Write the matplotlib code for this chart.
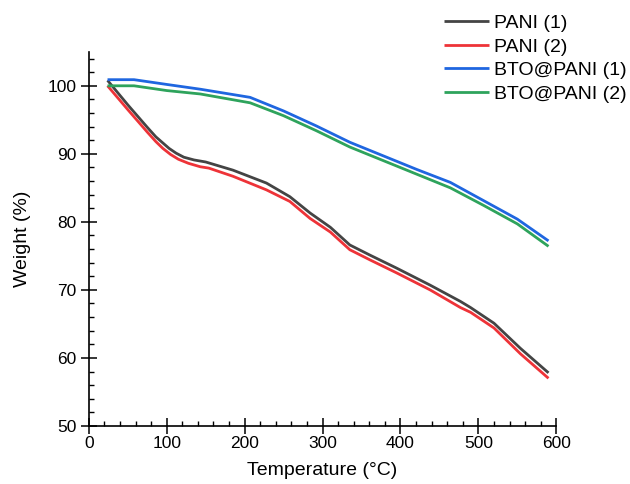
import matplotlib
matplotlib.use("Agg")
from matplotlib import pyplot as plt
from matplotlib.ticker import MultipleLocator

plt.rcParams['font.family'] = ['Liberation Sans', 'DejaVu Sans']

# temperatures (°C) and weight (%)
temp_pani_1 = [24, 50, 75, 86, 95, 103, 112, 122, 135, 150, 185, 228, 258, 284, 310,
               335, 361, 395, 438, 477, 490, 520, 554, 590]
pani_1 = [100.8, 97.2, 93.9, 92.5, 91.6, 90.8, 90.1, 89.5, 89.1, 88.8, 87.6, 85.7, 83.7,
          81.3, 79.2, 76.6, 75.1, 73.2, 70.7, 68.3, 67.4, 65.1, 61.4, 57.8]

temp_pani_2 = [24, 50, 75, 86, 95, 105, 115, 128, 143, 154, 185, 228, 258, 284, 310, 335,
               361, 395, 438, 477, 490, 520, 554, 590]
pani_2 = [100.0, 96.5, 93.2, 91.8, 90.8, 89.9, 89.2, 88.6, 88.1, 87.9, 86.7, 84.7, 83.0,
          80.5, 78.5, 75.9, 74.4, 72.5, 70.0, 67.4, 66.7, 64.4, 60.6, 57.0]

temp_bto = [24, 58, 100, 143, 207, 250, 292, 335, 378, 421, 464, 507, 550, 590]
bto_1 = [100.9, 100.9, 100.2, 99.5, 98.3, 96.3, 94.1, 91.7, 89.7, 87.7, 85.8, 83.1, 80.4, 77.2]
bto_2 = [100.0, 100.0, 99.3, 98.8, 97.5, 95.6, 93.4, 91.0, 89.0, 87.0, 85.0, 82.4, 79.7, 76.4]

fig = plt.figure(figsize=(6.3, 4.84), dpi=100)
ax = fig.add_axes([0.141, 0.12, 0.742, 0.773])

kw = dict(lw=2.0, solid_joinstyle='round', solid_capstyle='butt')
ax.plot(temp_pani_1, pani_1, color='#444444', label='PANI (1)', **kw)
ax.plot(temp_pani_2, pani_2, color='#ee3338', label='PANI (2)', **kw)
ax.plot(temp_bto, bto_1, color='#1f66e0', label='BTO@PANI (1)', **kw)
ax.plot(temp_bto, bto_2, color='#2ea35c', label='BTO@PANI (2)', **kw)

ax.set_xlim(0, 600)
ax.set_ylim(50, 105)
ax.set_xticks(range(0, 601, 100))
ax.set_yticks(range(50, 101, 10))
ax.xaxis.set_minor_locator(MultipleLocator(20))
ax.yaxis.set_minor_locator(MultipleLocator(2))
ax.tick_params(which='major', direction='inout', length=11, width=1.1, labelsize=12.5)
ax.tick_params(axis='x', which='major', pad=2)
ax.tick_params(which='minor', direction='in', length=3.5, width=1)
ax.spines['top'].set_visible(False)
ax.spines['right'].set_visible(False)
ax.spines['left'].set_linewidth(1.2)
ax.spines['bottom'].set_linewidth(1.2)

ax.set_xlabel('Temperature (°C)', fontsize=14, labelpad=8)
ax.set_ylabel('Weight (%)', fontsize=14, labelpad=12)

fig.legend(loc='upper left', bbox_to_anchor=(0.690, 0.990), frameon=False, fontsize=14,
           handlelength=2.3, handletextpad=0.26, labelspacing=0.3, borderpad=0)

plt.savefig("out.png", dpi=100)
